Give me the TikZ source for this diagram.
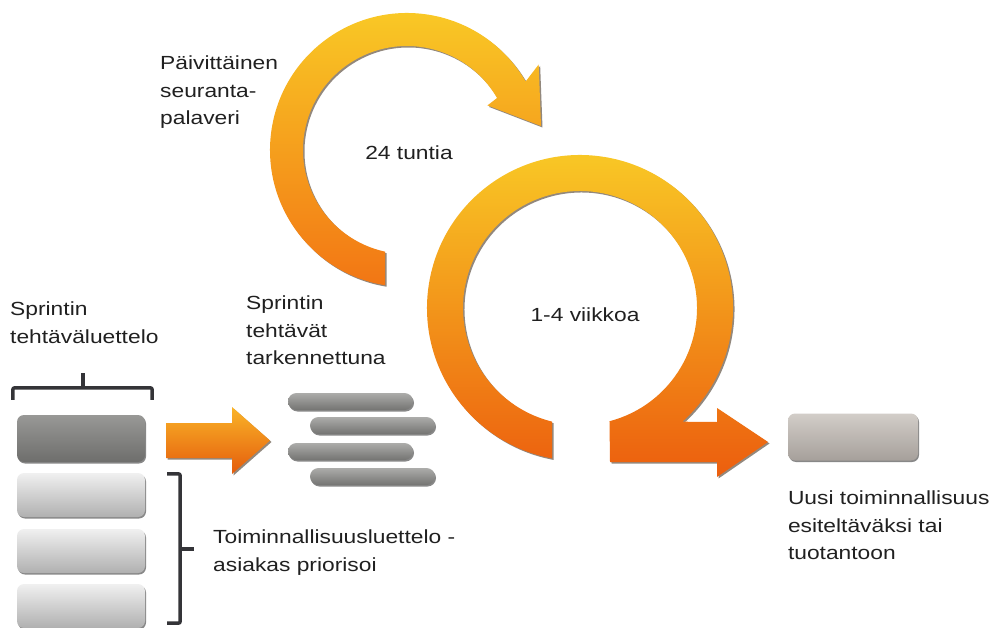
\documentclass[tikz,border=0pt]{standalone}
\usepackage{fontspec}
\setmainfont{Liberation Sans}[FakeStretch=1.2]
\usetikzlibrary{calc,positioning,shadows}

\definecolor{ringgold}{RGB}{249,203,38}
\definecolor{ringorange}{RGB}{242,118,20}
\definecolor{ringred}{RGB}{236,94,14}
\definecolor{arrowgold}{RGB}{250,180,40}
\definecolor{arrowred}{RGB}{228,92,12}
\definecolor{inkgray}{RGB}{32,32,32}
\definecolor{bracketgray}{RGB}{52,52,56}
\definecolor{sprinttop}{RGB}{152,152,150}
\definecolor{sprintlow}{RGB}{110,110,108}
\definecolor{feattop}{RGB}{240,240,240}
\definecolor{featlow}{RGB}{176,176,176}
\definecolor{donetop}{RGB}{210,205,200}
\definecolor{donelow}{RGB}{166,160,155}
\definecolor{tasktop}{RGB}{172,172,170}
\definecolor{tasklow}{RGB}{116,116,114}

\tikzset{
  blurb/.style={font=\fontsize{19}{27.5}\selectfont, text=inkgray, align=left, inner sep=0pt},
  boxshadow/.style={drop shadow={shadow xshift=1pt, shadow yshift=-1.5pt, fill=black!85, opacity=0.55}},
  itembox/.style={boxshadow, rounded corners=7pt, minimum width=128pt, inner sep=0pt},
  sprintbox/.style={itembox, minimum height=47pt, top color=sprinttop, bottom color=sprintlow},
  featbox/.style={itembox, minimum height=44pt, top color=feattop, bottom color=featlow},
  donebox/.style={itembox, minimum width=130pt, minimum height=47pt, top color=donetop, bottom color=donelow},
  taskbar/.style={boxshadow, rounded corners=8.5pt, minimum width=125pt, minimum height=17pt,
    inner sep=0pt, top color=tasktop, bottom color=tasklow},
  bracket/.style={draw=bracketgray, line width=3.5pt, rounded corners=2pt},
  ringshadow/.style={drop shadow={shadow xshift=1.5pt, shadow yshift=-1.5pt, fill=black!70!brown, opacity=0.55}}
}

\begin{document}
\begin{tikzpicture}[x=1pt, y=-1pt]

  % Frame of the whole picture
  \useasboundingbox (0,0) rectangle (995,628);

  % Centres of the two loops
  \coordinate (daily) at (407,150);
  \coordinate (sprintloop) at (580,308);

  % Daily loop
  \shade[ringshadow, top color=ringgold, bottom color=ringorange]
    ($(daily)+(99.2:137)$) arc[start angle=99.2, end angle=330, radius=137]
    -- ($(daily)+(327:157)$) -- (541,126) -- ($(daily)+(331:92)$)
    -- ($(daily)+(330:104)$) arc[start angle=330, end angle=102.2, radius=104]
    -- cycle;

  % Sprint loop, ending in an arrow to the right
  \shade[ringshadow, top color=ringgold, bottom color=ringred]
    ($(sprintloop)+(100.5:153)$) arc[start angle=100.5, end angle=408, radius=153]
    -- (717,422) -- (717,408) -- (768,442) -- (717,477) -- (717,462) -- (610,462)
    -- ($(sprintloop)+(75.4:117)$) arc[start angle=435.4, end angle=103.8, radius=117]
    -- cycle;

  % Backlog stack
  \node[sprintbox] (sprint) at (81,438.5) {};
  \foreach \i/\y in {1/495,2/551,3/606}
    \node[featbox] (feat\i) at (81,\y) {};

  % Brackets
  \draw[bracket] ($(sprint.north west)+(-4,-15)$) |- ($(sprint.north east)+(7,-27)$)
    -- ($(sprint.north east)+(7,-15)$);
  \draw[bracket] ($(sprint.north)+(2,-27)$) -- ($(sprint.north)+(2,-42)$);
  \draw[bracket] ($(feat1.north east)+(22,1)$) -| ($(feat3.south east)+(35,-5)$)
    -- ($(feat3.south east)+(22,-5)$);
  \draw[bracket] ($(feat2.east)+(35,-2)$) -- ($(feat2.east)+(49,-2)$);

  % Arrow from the stack to the tasks
  \shade[ringshadow, top color=arrowgold, bottom color=arrowred]
    (166,423) -- (232,423) -- (232,407) -- (270,440.5) -- (232,474)
    -- (232,458) -- (166,458) -- cycle;

  % Sprint tasks
  \foreach \i/\x/\y in {1/350.5/401.5, 2/372.5/425.5, 3/350.5/451.5, 4/372.5/476.5}
    \node[taskbar] (task\i) at (\x,\y) {};

  % Finished increment
  \node[donebox] (done) at (853,437) {};

  % Labels
  \node[blurb, anchor=north west] (dailytext) at (160,56) {Päivittäinen\\seuranta-\\palaveri};
  \node[blurb] (dailylabel) at ($(daily)+(2,3)$) {24 tuntia};
  \node[blurb] (sprintlabel) at ($(sprintloop)+(5,7)$) {1-4 viikkoa};
  \node[blurb, anchor=north west] (backlogtext) at (10,302) {Sprintin\\tehtäväluettelo};
  \node[blurb, anchor=north west] (tasktext) at (246,296) {Sprintin\\tehtävät\\tarkennettuna};
  \node[blurb, anchor=north west] (feattext) at (213,530) {Toiminnallisuusluettelo -\\asiakas priorisoi};
  \node[blurb, anchor=north west] (donetext) at ($(done.south west)+(0,30)$)
    {Uusi toiminnallisuus\\esiteltäväksi tai\\tuotantoon};

\end{tikzpicture}
\end{document}
